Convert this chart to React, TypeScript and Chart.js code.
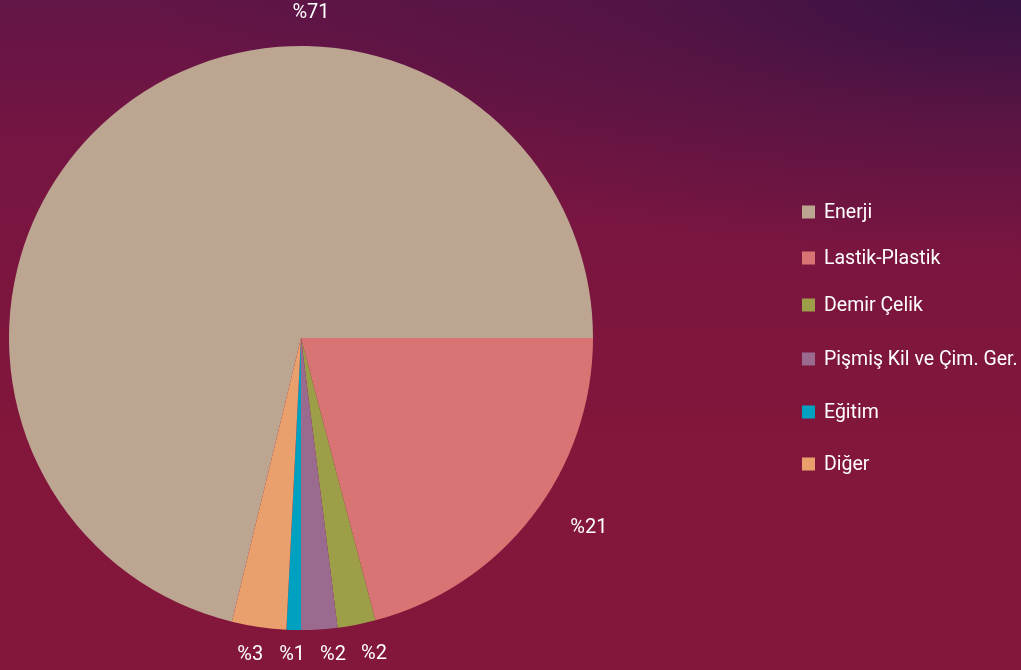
import React, { useEffect, useRef } from "react";
import { Chart, registerables } from "chart.js";

Chart.register(...registerables);

const categories = ["Enerji", "Lastik-Plastik", "Demir Çelik", "Pişmiş Kil ve Çim. Ger.", "Eğitim", "Diğer"];
const shares = [71.2, 20.9, 2.1, 2.0, 0.8, 3.0];
const shareLabels = ["%71", "%21", "%2", "%2", "%1", "%3"];
const sliceColors = ["#bca591", "#d97474", "#9c9e48", "#9b6b8f", "#00a0c1", "#eaa06d"];

const FONT = "Roboto, 'DejaVu Sans', sans-serif";

const labelPlugin = {
  id: "outerLabels",
  afterDatasetsDraw(chart: any) {
    const ctx = chart.ctx;
    const meta = chart.getDatasetMeta(0);
    ctx.save();
    ctx.font = `20px ${FONT}`;
    ctx.fillStyle = "#ffffff";
    ctx.textBaseline = "middle";
    ctx.textAlign = "center";
    const H = chart.height;
    const items: { px: number; py: number; w: number; text: string; bottom: boolean }[] = [];
    meta.data.forEach((arc: any, i: number) => {
      const { x, y, startAngle, endAngle, outerRadius } = arc.getProps(["x", "y", "startAngle", "endAngle", "outerRadius"], true);
      const text = shareLabels[i];
      const w = ctx.measureText(text).width;
      const top = -Math.PI / 2;
      let containsTop = false;
      for (let k = -2; k <= 2; k++) {
        const t = top + k * 2 * Math.PI;
        if (t >= startAngle && t <= endAngle) containsTop = true;
      }
      const mid = (startAngle + endAngle) / 2;
      const c = Math.cos(mid), s = Math.sin(mid);
      if (containsTop) {
        items.push({ px: x + 10, py: 13, w, text, bottom: false });
      } else if (s > 0.9) {
        const px = x + c * (outerRadius + 60);
        const py = Math.min(y + s * (outerRadius + 30), H - 15);
        items.push({ px, py, w, text, bottom: true });
      } else {
        const R = outerRadius + 48;
        const px = x + c * R + Math.sign(c) * (w / 2);
        const py = Math.max(13, Math.min(H - 15, y + s * R - 18));
        items.push({ px, py, w, text, bottom: false });
      }
    });
    const bottoms = items.filter((d) => d.bottom).sort((a, b) => a.px - b.px);
    for (let k = 1; k < bottoms.length; k++) {
      const minGap = (bottoms[k - 1].w + bottoms[k].w) / 2 + 15;
      if (bottoms[k].px - bottoms[k - 1].px < minGap) bottoms[k].px = bottoms[k - 1].px + minGap;
    }
    items.forEach((d) => ctx.fillText(d.text, d.px, d.py));
    ctx.restore();
  },
};

const legendPlugin = {
  id: "customLegend",
  afterDraw(chart: any) {
    const ctx = chart.ctx;
    ctx.save();
    ctx.font = `19.5px ${FONT}`;
    ctx.textBaseline = "middle";
    ctx.textAlign = "left";
    const ys = [212, 258, 305, 359, 412, 464];
    categories.forEach((c, i) => {
      const y = ys[i];
      ctx.fillStyle = sliceColors[i];
      ctx.fillRect(802, y - 6.5, 13, 13);
      ctx.fillStyle = "#ffffff";
      ctx.fillText(c, 824, y + 1);
    });
    ctx.restore();
  },
};

export default function App() {
  const ref = useRef<HTMLCanvasElement | null>(null);
  useEffect(() => {
    document.body.style.margin = "0";
    const total = shares.reduce((s, v) => s + v, 0);
    const rotation = 90 + (360 * (total - shares[0])) / total;
    const chart = new Chart(ref.current as HTMLCanvasElement, {
      type: "pie",
      data: {
        labels: categories,
        datasets: [
          {
            data: shares,
            backgroundColor: sliceColors,
            borderWidth: 0,
          },
        ],
      },
      options: {
        animation: false,
        responsive: false,
        rotation,
        layout: { padding: { left: 9, top: 46, right: 428, bottom: 40 } },
        plugins: {
          legend: { display: false },
          tooltip: { enabled: false },
        },
      },
      plugins: [labelPlugin, legendPlugin],
    });
    return () => chart.destroy();
  }, []);
  return (
    <div
      style={{
        width: 1021,
        height: 670,
        position: "relative",
        background:
          "radial-gradient(ellipse 85% 38% at 100% 0%, rgba(52,18,66,0.95) 0%, rgba(72,20,68,0.6) 45%, rgba(110,20,66,0) 100%), linear-gradient(180deg, #621547 0%, #761542 22%, #82163b 65%, #83163b 100%)",
      }}
    >
      <canvas ref={ref} width={1021} height={670} style={{ display: "block" }} />
    </div>
  );
}
